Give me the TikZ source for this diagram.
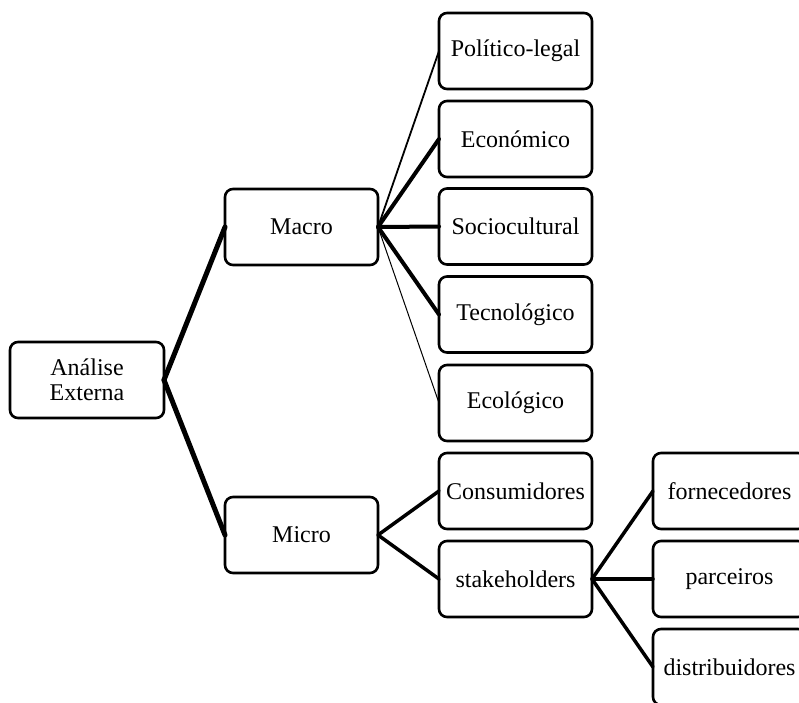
\documentclass[tikz,border=0pt]{standalone}
\usepackage{fontspec}
\setmainfont{Liberation Serif}
\begin{document}
\begin{tikzpicture}[x=1pt,y=-1pt,
  box/.style={draw, fill=white, rounded corners=8pt, line width=2.6pt,
    minimum width=153pt, minimum height=76pt, inner sep=0pt, outer sep=0pt,
    align=center, font=\fontsize{24}{25}\selectfont},
  wire/.style={line width=#1, line cap=round},
  wire/.default=4pt]
\useasboundingbox (0,0) rectangle (799,702);
\clip (0,0) rectangle (799,702);

% root and first level
\node[box, minimum width=154pt] (ext) at (87,380) {Análise\\Externa};
\node[box] (macro) at (301.5,227) {Macro};
\node[box] (micro) at (301.5,535) {Micro};

% macro-environment factors
\node[box] (pol) at (515.5,51) {Político-legal};
\node[box] (eco) at (515.5,139) {Económico};
\node[box] (soc) at (515.5,226.5) {Sociocultural};
\node[box] (tec) at (515.5,314.5) {Tecnológico};
\node[box] (ecl) at (515.5,403) {Ecológico};

% micro-environment
\node[box] (cons) at (515.5,491) {Consumidores};
\node[box] (stk) at (515.5,579) {stakeholders};

% stakeholder groups
\node[box] (forn) at (729.5,491) {fornecedores};
\node[box] (parc) at (729.5,579) {parceiros};
\node[box] (dist) at (729.5,667) {distribuidores};

% connectors
\draw[wire=5pt] (ext.east) -- (macro.west);
\draw[wire=5pt] (ext.east) -- (micro.west);

\draw[wire=1.8pt] (macro.east) -- (pol.west);
\draw[wire=4pt] (macro.east) -- (eco.west);
\draw[wire=4pt] (macro.east) -- (soc.west);
\draw[wire=4pt] (macro.east) -- (tec.west);
\draw[wire=1pt] (macro.east) -- (ecl.west);

\draw[wire=3.5pt] (micro.east) -- (cons.west);
\draw[wire=3.5pt] (micro.east) -- (stk.west);

\draw[wire=3.5pt] (stk.east) -- (forn.west);
\draw[wire=3.5pt] (stk.east) -- (parc.west);
\draw[wire=3.5pt] (stk.east) -- (dist.west);
\end{tikzpicture}
\end{document}
